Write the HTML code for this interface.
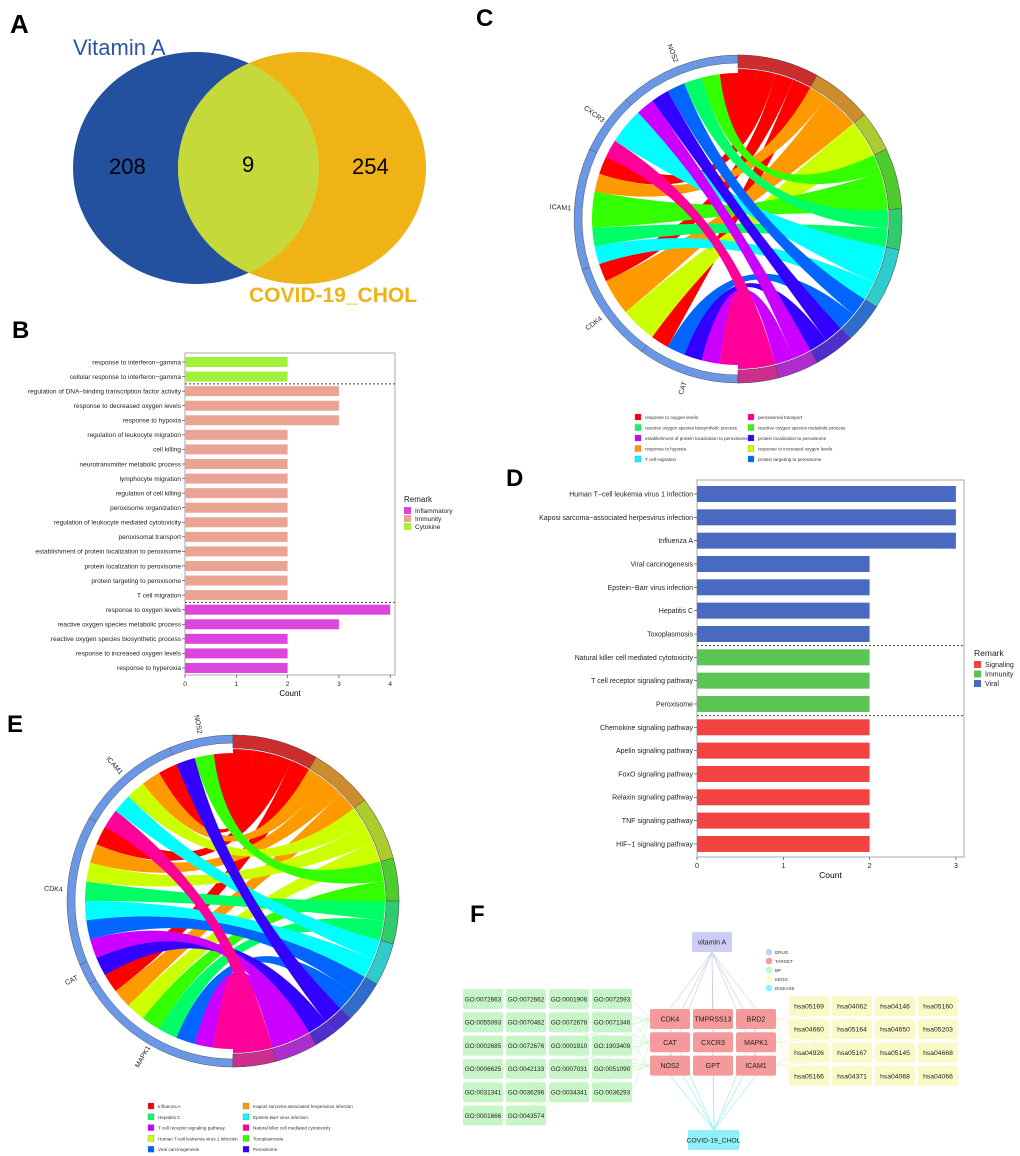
<!DOCTYPE html>
<html><head><meta charset="utf-8"><style>
html,body{margin:0;padding:0;background:#fff}
svg{display:block;font-family:"Liberation Sans",Arial,sans-serif}
</style></head><body>
<svg id="fig" width="1020" height="1156" viewBox="0 0 1020 1156" xmlns="http://www.w3.org/2000/svg">
<defs><clipPath id="clipL"><ellipse cx="196" cy="168" rx="123" ry="116"/></clipPath></defs>
<g>
<text x="10" y="33" font-size="26" font-weight="bold">A</text>
<ellipse cx="196" cy="168" rx="123" ry="116" fill="#23509f"/>
<ellipse cx="302" cy="168" rx="124" ry="116" fill="#efb315"/>
<ellipse cx="302" cy="168" rx="124" ry="116" fill="#c6d93a" clip-path="url(#clipL)"/>
<text x="73" y="55" font-size="22" fill="#2a55a5">Vitamin A</text>
<text x="249" y="302" font-size="21" font-weight="bold" fill="#efb315">COVID-19_CHOL</text>
<text x="109" y="174" font-size="22">208</text>
<text x="242" y="172" font-size="22">9</text>
<text x="352" y="174" font-size="22">254</text>
</g>
<text x="12" y="338" font-size="24" font-weight="bold">B</text>
<text x="476" y="26" font-size="24" font-weight="bold">C</text>
<text x="506" y="486" font-size="24" font-weight="bold">D</text>
<text x="7" y="732" font-size="24" font-weight="bold">E</text>
<text x="470" y="922" font-size="24" font-weight="bold">F</text>
<g id="gB"></g><g id="gD"></g><g id="gC"></g><g id="gE"></g><g id="gF"></g>
</svg>
<script>
const NS="http://www.w3.org/2000/svg";
function mk(parent,tag,attrs,text){const e=document.createElementNS(NS,tag);for(const k in attrs)e.setAttribute(k,attrs[k]);if(text!==undefined)e.textContent=text;parent.appendChild(e);return e;}

// ===== Panel B data =====
const catsB=["response to interferon\u2212gamma","cellular response to interferon\u2212gamma","regulation of DNA\u2212binding transcription factor activity","response to decreased oxygen levels","response to hypoxia","regulation of leukocyte migration","cell killing","neurotransmitter metabolic process","lymphocyte migration","regulation of cell killing","peroxisome organization","regulation of leukocyte mediated cytotoxicity","peroxisomal transport","establishment of protein localization to peroxisome","protein localization to peroxisome","protein targeting to peroxisome","T cell migration","response to oxygen levels","reactive oxygen species metabolic process","reactive oxygen species biosynthetic process","response to increased oxygen levels","response to hyperoxia"];
const valsB=[2,2,3,3,3,2,2,2,2,2,2,2,2,2,2,2,2,4,3,2,2,2];
const groupsB=["Cytokine","Cytokine","Immunity","Immunity","Immunity","Immunity","Immunity","Immunity","Immunity","Immunity","Immunity","Immunity","Immunity","Immunity","Immunity","Immunity","Immunity","Inflammatory","Inflammatory","Inflammatory","Inflammatory","Inflammatory"];
const ticksB=[0,1,2,3,4];
const legendB=["Inflammatory","Immunity","Cytokine"];
const colB={Inflammatory:"#de45dc",Immunity:"#eba393",Cytokine:"#a2f03a"};

// ===== Panel D data =====
const catsD=["Human T\u2212cell leukemia virus 1 infection","Kaposi sarcoma\u2212associated herpesvirus infection","Influenza A","Viral carcinogenesis","Epstein\u2212Barr virus infection","Hepatitis C","Toxoplasmosis","Natural killer cell mediated cytotoxicity","T cell receptor signaling pathway","Peroxisome","Chemokine signaling pathway","Apelin signaling pathway","FoxO signaling pathway","Relaxin signaling pathway","TNF signaling pathway","HIF\u22121 signaling pathway"];
const valsD=[3,3,3,2,2,2,2,2,2,2,2,2,2,2,2,2];
const groupsD=["Viral","Viral","Viral","Viral","Viral","Viral","Viral","Immunity","Immunity","Immunity","Signaling","Signaling","Signaling","Signaling","Signaling","Signaling"];
const ticksD=[0,1,2,3];
const legendD=["Signaling","Immunity","Viral"];
const colD={Signaling:"#f24242",Immunity:"#5cc455",Viral:"#4a69c0"};

// ===== Chord data =====
const genesC=["CAT","CDK4","ICAM1","CXCR3","NOS2"];
const termsC=["response to oxygen levels","response to hypoxia","response to increased oxygen levels","reactive oxygen species metabolic process","reactive oxygen species biosynthetic process","T cell migration","protein targeting to peroxisome","protein localization to peroxisome","establishment of protein localization to peroxisome","peroxisomal transport"];
const linksC=[[4,0],[2,0],[1,0],[0,0],[2,1],[1,1],[1,1],[1,2],[1,2],[4,3],[2,3],[2,3],[4,4],[2,4],[3,5],[3,5],[2,5],[4,6],[0,6],[4,7],[0,7],[4,8],[0,8],[3,9],[0,9]];
const legendOrderC=[0,4,8,1,5,9,3,7,2,6];

const genesE=["MAPK1","CAT","CDK4","ICAM1","NOS2"];
const termsE=["Influenza A","Kaposi sarcoma-associated herpesvirus infection","Human T-cell leukemia virus 1 infection","Toxoplasmosis","Hepatitis C","Epstein-Barr virus infection","Viral carcinogenesis","Peroxisome","T cell receptor signaling pathway","Natural killer cell mediated cytotoxicity"];
const linksE=[[4,0],[3,0],[2,0],[0,0],[3,1],[2,1],[0,1],[3,2],[2,2],[0,2],[4,3],[0,3],[2,4],[0,4],[3,5],[2,5],[2,6],[0,6],[4,7],[1,7],[2,8],[0,8],[3,9],[0,9]];
const legendOrderE=[0,4,8,2,6,1,5,9,3,7];
const termColors=["#ff0000","#ff9900","#ccff00","#33ff00","#00ff66","#00ffff","#0066ff","#3300ff","#cc00ff","#ff0099"];

// ===== Panel F data =====
const goIds=["GO:0072663","GO:0072662","GO:0001906","GO:0072593","GO:0055093","GO:0070482","GO:0072678","GO:0071346","GO:0002685","GO:0072676","GO:0001910","GO:1903409","GO:0006625","GO:0042133","GO:0007031","GO:0051090","GO:0031341","GO:0036296","GO:0034341","GO:0036293","GO:0001666","GO:0043574"];
const hsaIds=["hsa05169","hsa04062","hsa04146","hsa05160","hsa04660","hsa05164","hsa04650","hsa05203","hsa04926","hsa05167","hsa05145","hsa04668","hsa05166","hsa04371","hsa04068","hsa04066"];
const targets=["CDK4","TMPRSS13","BRD2","CAT","CXCR3","MAPK1","NOS2","GPT","ICAM1"];
const legendF=[["DRUG","#ccccf5"],["TARGET","#f59a9a"],["BP","#c8f5c8"],["KEGG","#fafac8"],["DISEASE","#8ff0f5"]];

function barChart(g,cats,vals,groups,ticks,legend,col,o,name){
  const xs=v=>o.x0+v*o.unit;
  const ys=i=>o.yFirst+i*o.step;
  const pa=mk(g,"rect",{x:o.boxL,y:o.boxT,width:o.boxR-o.boxL,height:o.boxB-o.boxT,fill:"#fff",stroke:"#aaa","stroke-width":1});
  
  
  cats.forEach((c,i)=>{
    const r=mk(g,"rect",{x:xs(0),y:ys(i)-o.bh/2,width:xs(vals[i])-xs(0),height:o.bh,fill:col[groups[i]]});
    
    
    const t=mk(g,"text",{x:o.boxL-4,y:ys(i)+o.fs*0.35,"font-size":o.fs,"text-anchor":"end",fill:"#222"},c);
    
    
    mk(g,"line",{x1:o.boxL-3,x2:o.boxL,y1:ys(i),y2:ys(i),stroke:"#333","stroke-width":0.6});
    if(i>0&&groups[i]!==groups[i-1]){
      const d=mk(g,"line",{x1:o.boxL,x2:o.boxR,y1:(ys(i)+ys(i-1))/2,y2:(ys(i)+ys(i-1))/2,stroke:"#444","stroke-width":1,"stroke-dasharray":"2,2"});
      
      
    }
  });
  ticks.forEach(v=>{
    mk(g,"line",{x1:xs(v),x2:xs(v),y1:o.boxB,y2:o.boxB+3,stroke:"#333","stroke-width":0.6});
    const t=mk(g,"text",{x:xs(v),y:o.boxB+11,"font-size":o.fs,"text-anchor":"middle",fill:"#222"},v);
    
    
  });
  const xt=mk(g,"text",{x:(o.boxL+o.boxR)/2,y:o.boxB+21,"font-size":o.fs+1.5,"text-anchor":"middle"},"Count");
  
  
  const lt=mk(g,"text",{x:o.lx,y:o.ly,"font-size":o.fs+1.5,fill:"#222"},"Remark");
  
  
  legend.forEach((l,i)=>{
    const y=o.ly+5+i*o.lstep;
    const s=mk(g,"rect",{x:o.lx,y:y,width:7,height:7,fill:col[l]});
    
    
    const t=mk(g,"text",{x:o.lx+11,y:y+6,"font-size":o.fs,fill:"#222"},l);
    
    
  });
}
barChart(document.getElementById("gB"),catsB,valsB,groupsB,ticksB,legendB,colB,
 {x0:185,unit:51.3,yFirst:362,step:14.57,bh:10,boxL:185,boxR:395,boxT:353,boxB:675,fs:6.5,lx:404,ly:502,lstep:8},"b");
barChart(document.getElementById("gD"),catsD,valsD,groupsD,ticksD,legendD,colD,
 {x0:697,unit:86.3,yFirst:494,step:23.33,bh:16,boxL:697,boxR:964,boxT:480,boxB:857,fs:7,lx:974,ly:656,lstep:9.5},"d");

function chord(g,genes,terms,links,legendOrder,o,name){
  const P=(a,r)=>[o.cx+r*Math.sin(a*Math.PI/180),o.cy-r*Math.cos(a*Math.PI/180)];
  const f=p=>p[0].toFixed(2)+","+p[1].toFixed(2);
  const N=links.length, u=180/N;
  const gCount=genes.map((_,i)=>links.filter(l=>l[0]===i).length);
  const tCount=terms.map((_,i)=>links.filter(l=>l[1]===i).length);
  const gStart=[],tStart=[];let a=180;gCount.forEach(c=>{gStart.push(a);a+=c*u;});
  a=0;tCount.forEach(c=>{tStart.push(a);a+=c*u;});
  const arc=(a1,a2,r1,r2,fill,nm,op)=>{
    const p=mk(g,"path",{d:"M"+f(P(a1,r2))+"A"+r2+","+r2+" 0 0 1 "+f(P(a2,r2))+"L"+f(P(a2,r1))+"A"+r1+","+r1+" 0 0 0 "+f(P(a1,r1))+"Z",fill:fill,"fill-opacity":op,stroke:"#555","stroke-width":0.5});
    
    
  };
  genes.forEach((gn,i)=>{
    arc(gStart[i],gStart[i]+gCount[i]*u,o.R-8,o.R,"#6a97e6","gene-segment-"+gn,1);
    const mid=gStart[i]+gCount[i]*u/2,p=P(mid,o.R+14);
    const t=mk(g,"text",{x:p[0],y:p[1],"font-size":7,"text-anchor":"middle","dominant-baseline":"middle",fill:"#222",transform:"rotate("+(mid-270)+" "+p[0]+" "+p[1]+")"},gn);
    
    
  });
  terms.forEach((tn,i)=>{
    arc(tStart[i],tStart[i]+tCount[i]*u,o.R-13,o.R,"#7a7a7a","term-segment-bg-"+i,1);
    arc(tStart[i],tStart[i]+tCount[i]*u,o.R-13,o.R,termColors[i],"term-segment-"+i,0.62);
  });
  const byGene=genes.map((_,i)=>links.map((l,k)=>[l,k]).filter(x=>x[0][0]===i).sort((x,y)=>y[0][1]-x[0][1]));
  const byTerm=terms.map((_,i)=>links.map((l,k)=>[l,k]).filter(x=>x[0][1]===i).sort((x,y)=>y[0][0]-x[0][0]));
  const ga={},ta={};
  byGene.forEach((arr,i)=>arr.forEach((x,j)=>{ga[x[1]]=gStart[i]+j*u;}));
  byTerm.forEach((arr,i)=>arr.forEach((x,j)=>{ta[x[1]]=tStart[i]+j*u;}));
  const C=o.cx+","+o.cy, rg=o.R-18, rt=o.R-14;
  links.forEach((l,k)=>{
    const a1=ga[k],a2=a1+u,b1=ta[k],b2=b1+u;
    const d="M"+f(P(a1,rg))+"A"+rg+","+rg+" 0 0 1 "+f(P(a2,rg))+"Q"+C+" "+f(P(b1,rt))+"A"+rt+","+rt+" 0 0 1 "+f(P(b2,rt))+"Q"+C+" "+f(P(a1,rg))+"Z";
    const p=mk(g,"path",{d:d,fill:termColors[l[1]],stroke:"none"});
    
    
  });
  legendOrder.forEach((ti,j)=>{
    const c=Math.floor(j/5),r=j%5;
    const x=o.lx[c],y=o.ly+r*o.lstep;
    const s=mk(g,"rect",{x:x,y:y-5,width:6,height:6,fill:termColors[ti],stroke:"#777","stroke-width":0.3});
    
    
    const t=mk(g,"text",{x:x+10,y:y,"font-size":4.6,fill:"#333"},terms[ti]);
    
    
  });
}
chord(document.getElementById("gC"),genesC,termsC,linksC,legendOrderC,{cx:738,cy:219,R:164,lx:[635,748],ly:419,lstep:10.5},"c");
chord(document.getElementById("gE"),genesE,termsE,linksE,legendOrderE,{cx:233,cy:901,R:166,lx:[148,243],ly:1108,lstep:10.8},"e");

(function(){
  const g=document.getElementById("gF");
  const W=40,H=20;
  const tPos=targets.map((t,i)=>[650+(i%3)*43,1009+Math.floor(i/3)*23.3]);
  const goPos=goIds.map((t,i)=>[463+(i%4)*43,989+Math.floor(i/4)*23.3]);
  const hsaPos=hsaIds.map((t,i)=>[789+(i%4)*43,996+Math.floor(i/4)*23.3]);
  const drug=[692,932],dis=[688,1130];
  tPos.forEach((p,i)=>{
    const e1=mk(g,"line",{x1:drug[0]+20,y1:drug[1]+20,x2:p[0]+W/2,y2:p[1],stroke:"#c8c8f0","stroke-width":0.6});
    
    
    const e2=mk(g,"line",{x1:dis[0]+26,y1:dis[1],x2:p[0]+W/2,y2:p[1]+H,stroke:"#90eef0","stroke-width":0.6});
    
    
  });
  goPos.forEach((p,i)=>{
    const t=tPos[[0,3,6][i%3]];
    const e=mk(g,"line",{x1:p[0]+W,y1:p[1]+H/2,x2:t[0],y2:t[1]+H/2,stroke:"#c8f0c8","stroke-width":0.5});
    
    
  });
  hsaPos.forEach((p,i)=>{
    const t=tPos[[2,5,8][i%3]];
    const e=mk(g,"line",{x1:p[0],y1:p[1]+H/2,x2:t[0]+W,y2:t[1]+H/2,stroke:"#f0f0c0","stroke-width":0.5});
    
    
  });
  function node(x,y,w,h,fill,label,nm,fs){
    const r=mk(g,"rect",{x:x,y:y,width:w,height:h,rx:2,fill:fill});
    
    
    const t=mk(g,"text",{x:x+w/2,y:y+h/2+fs*0.36,"font-size":fs,"text-anchor":"middle",fill:"#222"},label);
    
    
  }
  goIds.forEach((id,i)=>node(goPos[i][0],goPos[i][1],W,H,"#c8f5c8",id,"bp-node",6.4));
  hsaIds.forEach((id,i)=>node(hsaPos[i][0],hsaPos[i][1],W,H,"#fafac8",id,"kegg-node",6.8));
  targets.forEach((id,i)=>node(tPos[i][0],tPos[i][1],W,H,"#f59a9a",id,"target-node",7));
  node(drug[0],drug[1],40,20,"#ccccf5","vitamin A","drug-node",7);
  node(dis[0],dis[1],51,20,"#8ff0f5","COVID-19_CHOL","disease-node",6.8);
  legendF.forEach((l,i)=>{
    const c=mk(g,"circle",{cx:769,cy:952+i*9,r:3.3,fill:l[1]});
    
    
    const t=mk(g,"text",{x:775,y:954+i*9,"font-size":4.5,fill:"#333"},l[0]);
    
    
  });
})();
</script>
</body></html>
